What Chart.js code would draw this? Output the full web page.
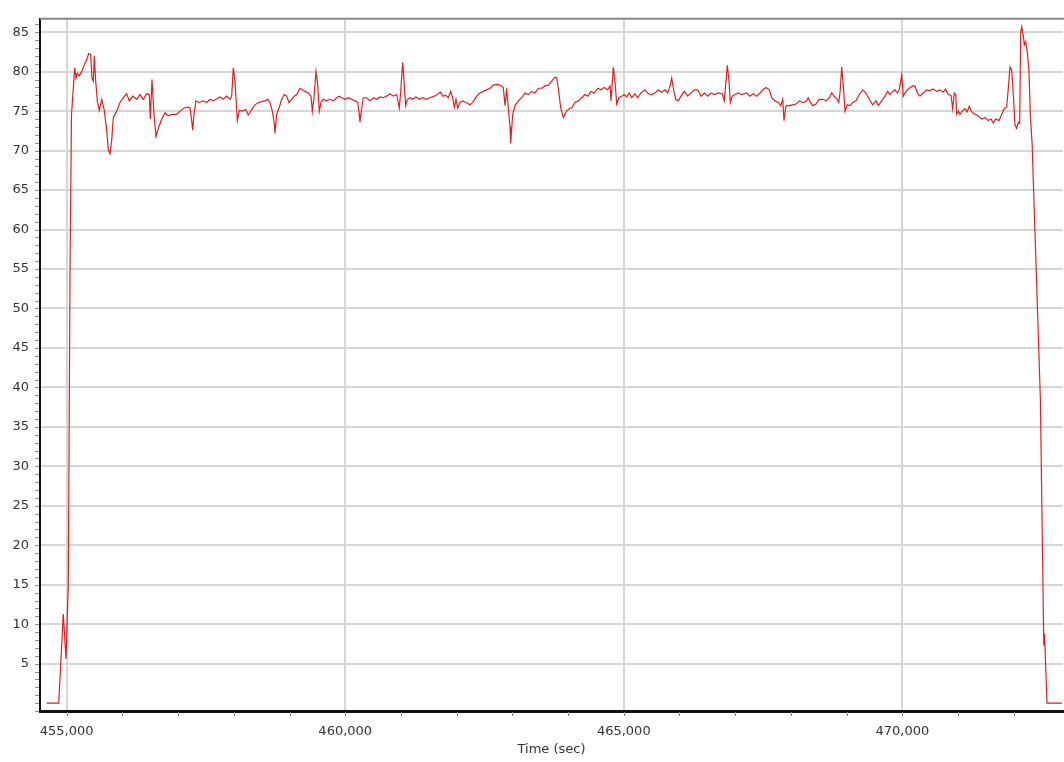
<!DOCTYPE html>
<html>
<head>
<meta charset="utf-8">
<script src="https://cdn.jsdelivr.net/npm/chart.js@4.4.1/dist/chart.umd.min.js"></script>
<style>
  html, body { margin: 0; padding: 0; background: #fff; }
  #wrap { width: 1064px; height: 762px; }
</style>
</head>
<body>
<div id="wrap"><canvas id="timeChart" width="1064" height="762"></canvas></div>
<script>
// ======== Dados ========
const timeSec = [
  454641, 454857, 454939, 454988, 455029, 455060, 455086, 455144, 455167, 455191,
  455226, 455270, 455311, 455359, 455395, 455431, 455454, 455478, 455496, 455521,
  455550, 455585, 455629, 455670, 455718, 455747, 455778, 455808, 455837, 455898,
  455957, 456016, 456077, 456124, 456185, 456257, 456316, 456375, 456436, 456483,
  456501, 456531, 456567, 456603, 456644, 456706, 456765, 456824, 456885, 456975,
  457034, 457106, 457183, 457214, 457244, 457262, 457285, 457321, 457380, 457452,
  457513, 457573, 457632, 457722, 457752, 457811, 457872, 457932, 457962, 457991,
  458021, 458063, 458098, 458152, 458213, 458260, 458321, 458380, 458440, 458501,
  458560, 458608, 458650, 458691, 458727, 458739, 458770, 458811, 458860, 458906,
  458949, 458991, 459039, 459086, 459129, 459188, 459229, 459278, 459337, 459386,
  459409, 459439, 459475, 459506, 459534, 459565, 459606, 459667, 459727, 459786,
  459847, 459888, 459937, 459996, 460055, 460116, 460175, 460224, 460252, 460265,
  460296, 460324, 460385, 460445, 460504, 460565, 460624, 460683, 460744, 460804,
  460863, 460924, 460970, 460996, 461032, 461055, 461085, 461114, 461163, 461211,
  461270, 461329, 461391, 461450, 461522, 461599, 461671, 461714, 461750, 461809,
  461850, 461893, 461929, 461958, 461988, 462019, 462060, 462109, 462168, 462240,
  462299, 462360, 462419, 462478, 462539, 462599, 462658, 462719, 462778, 462837,
  462868, 462898, 462927, 462958, 462970, 463006, 463047, 463107, 463168, 463227,
  463286, 463347, 463406, 463466, 463527, 463586, 463645, 463706, 463765, 463796,
  463825, 463868, 463914, 463975, 464035, 464065, 464124, 464184, 464245, 464304,
  464352, 464411, 464471, 464532, 464591, 464650, 464711, 464753, 464771, 464812,
  464842, 464873, 464914, 464963, 465009, 465052, 465094, 465142, 465201, 465250,
  465309, 465381, 465440, 465501, 465560, 465620, 465681, 465740, 465788, 465830,
  465860, 465889, 465932, 465979, 466027, 466086, 466147, 466206, 466266, 466327,
  466386, 466445, 466506, 466565, 466625, 466697, 466768, 466804, 466834, 466858,
  466889, 466912, 466948, 466996, 467056, 467117, 467206, 467266, 467325, 467386,
  467445, 467494, 467553, 467612, 467655, 467714, 467774, 467817, 467853, 467876,
  467912, 467971, 468032, 468091, 468150, 468212, 468271, 468312, 468343, 468391,
  468450, 468509, 468571, 468630, 468689, 468732, 468773, 468822, 468858, 468881,
  468912, 468940, 468971, 469012, 469061, 469109, 469168, 469227, 469289, 469348,
  469407, 469468, 469527, 469569, 469630, 469689, 469737, 469779, 469827, 469868,
  469910, 469945, 469989, 470017, 470066, 470125, 470186, 470227, 470269, 470317,
  470376, 470437, 470497, 470556, 470617, 470676, 470735, 470778, 470825, 470874,
  470904, 470933, 470958, 470976, 471005, 471035, 471076, 471125, 471161, 471202,
  471245, 471304, 471364, 471425, 471484, 471543, 471592, 471633, 471676, 471735,
  471784, 471830, 471873, 471902, 471933, 471963, 471992, 472022, 472053, 472082,
  472107, 472125, 472143, 472171, 472189, 472214, 472250, 472274, 472297, 472330,
  472478, 472539, 472552, 472561, 472597, 472866
];

const values = [
  0, 0, 11.3, 5.6, 15, 55, 74.5, 80.5, 79.2, 79.8,
  79.5, 80, 80.8, 81.5, 82.3, 82.2, 79.2, 78.8, 82.0, 78.8,
  76.3, 75.1, 76.5, 75.3, 72.6, 70.1, 69.6, 71.3, 74.2, 75.0,
  76.1, 76.7, 77.2, 76.3, 76.9, 76.5, 77.1, 76.5, 77.2, 77.1,
  74.0, 79.0, 74.6, 71.8, 72.8, 74.0, 74.8, 74.4, 74.6, 74.6,
  75.0, 75.4, 75.5, 75.4, 73.8, 72.6, 74.6, 76.3, 76.1, 76.3,
  76.1, 76.5, 76.3, 76.7, 76.8, 76.5, 76.9, 76.5, 76.9, 80.5,
  78.8, 73.8, 75.1, 75.0, 75.2, 74.5, 75.2, 75.8, 76.1, 76.2,
  76.3, 76.5, 76.1, 75.0, 73.4, 72.2, 74.6, 75.4, 76.5, 77.1,
  76.9, 76.1, 76.5, 76.9, 77.1, 77.9, 77.7, 77.5, 77.3, 76.9,
  75.0, 76.7, 80.0, 78.3, 75.0, 76.1, 76.5, 76.3, 76.5, 76.3,
  76.7, 76.9, 76.7, 76.5, 76.7, 76.5, 76.3, 76.1, 74.6, 73.6,
  75.4, 76.7, 76.7, 76.3, 76.7, 76.5, 76.8, 76.7, 76.9, 77.2,
  76.9, 77.1, 75.4, 77.5, 81.2, 78.8, 75.7, 76.5, 76.7, 76.5,
  76.8, 76.5, 76.7, 76.5, 76.7, 76.9, 77.2, 77.4, 76.9, 77.0,
  76.7, 77.5, 76.7, 75.5, 76.5, 75.4, 76.1, 76.3, 76.1, 75.8,
  76.2, 76.9, 77.3, 77.5, 77.7, 77.9, 78.3, 78.4, 78.3, 78.0,
  75.7, 77.9, 75.4, 73.0, 70.9, 74.6, 75.7, 76.3, 76.7, 77.3,
  77.1, 77.5, 77.3, 77.9, 77.9, 78.2, 78.3, 78.8, 79.3, 79.2,
  77.9, 75.4, 74.2, 75.0, 75.4, 75.4, 76.1, 76.3, 76.7, 77.1,
  76.9, 77.5, 77.3, 77.9, 77.7, 78.0, 77.7, 78.2, 76.3, 80.6,
  78.8, 75.9, 76.7, 76.9, 77.1, 76.8, 77.3, 76.7, 77.2, 76.7,
  77.3, 77.7, 77.2, 77.1, 77.3, 77.7, 77.4, 77.7, 77.3, 78.2,
  79.2, 77.9, 76.5, 76.3, 76.9, 77.5, 76.9, 77.3, 77.7, 77.7,
  76.9, 77.3, 76.9, 77.3, 77.1, 77.3, 77.2, 76.3, 78.8, 80.8,
  78.8, 76.1, 76.9, 77.1, 77.3, 77.1, 77.3, 76.9, 77.2, 76.9,
  77.3, 77.7, 78.0, 77.7, 76.7, 76.3, 76.1, 75.7, 76.5, 73.8,
  75.7, 75.7, 75.8, 75.9, 76.3, 76.1, 76.2, 76.7, 76.2, 75.7,
  75.9, 76.5, 76.5, 76.3, 76.7, 77.3, 76.9, 76.6, 76.1, 77.3,
  80.6, 78.3, 75.0, 75.8, 75.7, 76.1, 76.3, 77.1, 77.7, 77.3,
  76.5, 75.8, 76.3, 75.7, 76.3, 76.9, 77.5, 77.1, 77.5, 77.7,
  77.3, 77.7, 79.6, 76.9, 77.5, 77.9, 78.2, 78.2, 77.3, 76.9,
  77.3, 77.7, 77.6, 77.8, 77.5, 77.7, 77.4, 77.8, 77.1, 77.0,
  75.3, 77.3, 77.1, 74.6, 75.0, 74.6, 75.0, 75.3, 74.9, 75.6,
  74.9, 74.6, 74.4, 74.0, 74.2, 73.8, 74.0, 73.5, 74.0, 73.8,
  74.6, 75.3, 75.5, 77.9, 80.6, 80.2, 77.1, 73.3, 72.8, 73.6,
  73.4, 85.0, 85.7, 84.6, 83.4, 83.8, 82.1, 80.0, 74.6, 70.8,
  38.5, 7.3, 8.8, 7.0, 0, 0
];

const xTicks = [455000, 460000, 465000, 470000];
const yTicks = [5, 10, 15, 20, 25, 30, 35, 40, 45, 50, 55, 60, 65, 70, 75, 80, 85];
const xRange = [454521, 472884];
const yRange = [-1, 86.7];
const xMinorStep = 1000;
const yMinorStep = 1;
const xTitle = "Time (sec)";

// ======== Estilo ========
const labelFont = { family: "'DejaVu Sans', Verdana, sans-serif", size: 13 };

// traços menores + borda superior
const axisDecor = {
  id: "axisDecor",
  afterDraw(chart) {
    const { ctx, chartArea, scales } = chart;
    ctx.save();
    ctx.strokeStyle = "#888";
    ctx.lineWidth = 2;
    ctx.beginPath();
    ctx.moveTo(chartArea.left, chartArea.top);
    ctx.lineTo(chartArea.right + 1, chartArea.top);
    ctx.stroke();

    ctx.strokeStyle = "#8a8a8a";
    ctx.lineWidth = 1;
    ctx.beginPath();
    for (let v = Math.ceil(yRange[0]); v <= yRange[1]; v += yMinorStep) {
      const y = Math.round(scales.y.getPixelForValue(v)) + 0.5;
      ctx.moveTo(chartArea.left - 5, y);
      ctx.lineTo(chartArea.left - 1, y);
    }
    for (let v = Math.ceil(xRange[0] / xMinorStep) * xMinorStep; v <= xRange[1]; v += xMinorStep) {
      const x = Math.round(scales.x.getPixelForValue(v)) + 0.5;
      ctx.moveTo(x, chartArea.bottom + 1);
      ctx.lineTo(x, chartArea.bottom + 5);
    }
    ctx.stroke();
    ctx.restore();
  },
};

const ctx = document.getElementById("timeChart");

new Chart(ctx, {
  type: "line",
  data: {
    datasets: [
      {
        data: timeSec.map((t, i) => ({ x: t, y: values[i] })),
        borderColor: "#e02020",
        borderWidth: 1.2,
        pointRadius: 0,
        tension: 0,
        fill: false,
      },
    ],
  },
  options: {
    responsive: false,
    animation: false,
    events: [],
    layout: { padding: { top: 6, right: 1, left: 0, bottom: 0 } },
    plugins: { legend: { display: false }, tooltip: { enabled: false } },
    scales: {
      x: {
        type: "linear",
        min: xRange[0],
        max: xRange[1],
        afterBuildTicks: (s) => { s.ticks = xTicks.map((v) => ({ value: v })); },
        afterFit: (s) => { s.height = 51; },
        grid: { color: "#d6d6d6", lineWidth: 2, drawTicks: false },
        border: { color: "#111", width: 3 },
        ticks: {
          padding: 13,
          color: "#333",
          font: labelFont,
          maxRotation: 0,
          callback: (v) => Number(v).toLocaleString("en-US"),
        },
        title: {
          display: true,
          text: xTitle,
          color: "#333",
          font: labelFont,
          padding: { top: 0, bottom: 5 },
        },
      },
      y: {
        min: yRange[0],
        max: yRange[1],
        afterBuildTicks: (s) => { s.ticks = yTicks.map((v) => ({ value: v })); },
        afterFit: (s) => { s.width = 40; },
        grid: { color: "#d6d6d6", lineWidth: 2, drawTicks: false },
        border: { color: "#111", width: 2 },
        ticks: { padding: 11, color: "#333", font: labelFont },
      },
    },
  },
  plugins: [axisDecor],
});
</script>
</body>
</html>
